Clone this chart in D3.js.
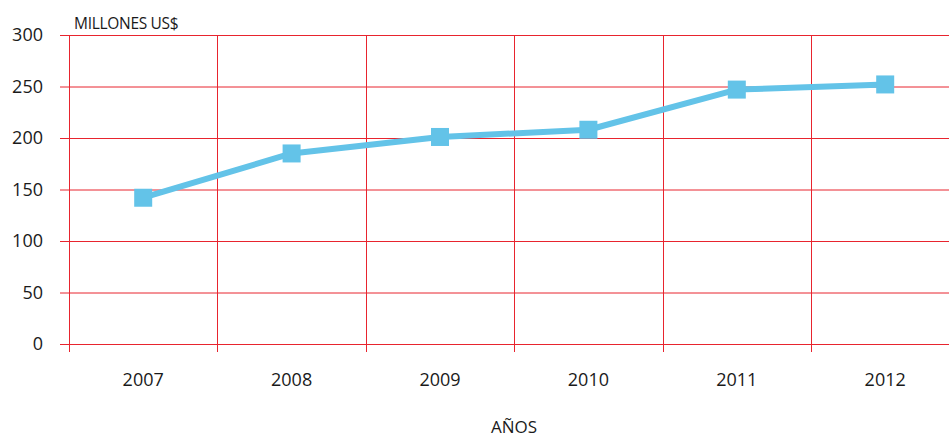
<!DOCTYPE html>
<html><head><meta charset="utf-8">
<script src="https://cdn.jsdelivr.net/npm/d3@7"></script>
<style>
body{margin:0;background:#fff;}
svg{display:block;}
text{font-family:"Open Sans",sans-serif;fill:#1a1a1a;}
</style></head>
<body>
<script>
const years = ["2007","2008","2009","2010","2011","2012"];
const values = [142, 185, 201, 208, 247, 252];
const yTicks = [0, 50, 100, 150, 200, 250, 300];
const yTitle = "MILLONES US$";
const xTitle = "AÑOS";

const W = 949, H = 437;
const svg = d3.select("body").append("svg").attr("width", W).attr("height", H);

const x = d3.scaleBand().domain(years).range([69, 69 + 148.4 * 6]).padding(0);
const y = d3.scaleLinear().domain([0, 300]).range([344, 35]);
const grid = "#e8242e";

// horizontal gridlines
svg.append("g").selectAll("line").data(yTicks).join("line")
  .attr("x1", 60).attr("x2", W).attr("y1", d => y(d) + 0.5).attr("y2", d => y(d) + 0.5)
  .attr("stroke", grid).attr("stroke-width", 1);

// vertical lines at band boundaries
svg.append("g").selectAll("line").data(years).join("line")
  .attr("x1", d => Math.round(x(d)) + 0.5).attr("x2", d => Math.round(x(d)) + 0.5)
  .attr("y1", y(300)).attr("y2", y(0) + 8)
  .attr("stroke", grid).attr("stroke-width", 1);

// y tick labels
svg.append("g").selectAll("text").data(yTicks).join("text")
  .attr("x", 43).attr("y", d => y(d)).attr("dy", "0.36em")
  .attr("text-anchor", "end").attr("font-size", 18).text(d => d);

// x tick labels
svg.append("g").selectAll("text").data(years).join("text")
  .attr("x", d => x(d) + x.bandwidth() / 2).attr("y", 386)
  .attr("text-anchor", "middle").attr("font-size", 18).text(d => d);

svg.append("text").attr("x", 74).attr("y", 29).attr("font-size", 15.5)
  .attr("letter-spacing", "-0.3").text(yTitle);
svg.append("text").attr("x", 514).attr("y", 433).attr("text-anchor", "middle")
  .attr("font-size", 17).text(xTitle);

const line = d3.line().x((d, i) => x(years[i]) + x.bandwidth() / 2).y(d => y(d));
svg.append("path").datum(values).attr("d", line)
  .attr("fill", "none").attr("stroke", "#63c3e8").attr("stroke-width", 6)
  .attr("stroke-linejoin", "round");

svg.append("g").selectAll("rect").data(values).join("rect")
  .attr("x", (d, i) => x(years[i]) + x.bandwidth() / 2 - 9)
  .attr("y", d => y(d) - 9).attr("width", 18).attr("height", 18)
  .attr("fill", "#63c3e8");
</script>
</body></html>
